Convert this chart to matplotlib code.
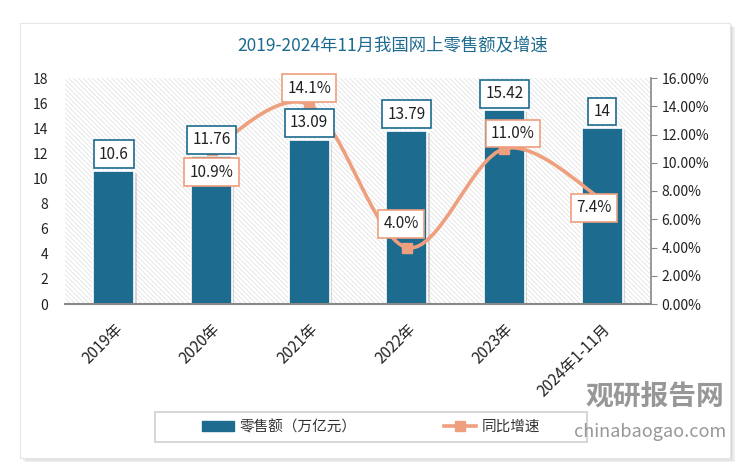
import matplotlib.pyplot as plt
from matplotlib.patches import Rectangle, PathPatch
from matplotlib.path import Path
from matplotlib.lines import Line2D
from matplotlib.ticker import FuncFormatter

plt.rcParams['font.family'] = ['Noto Sans CJK SC', 'DejaVu Sans']
plt.rcParams['hatch.linewidth'] = 0.5

categories = ['2019年', '2020年', '2021年', '2022年', '2023年', '2024年1-11月']
sales = [10.6, 11.76, 13.09, 13.79, 15.42, 14]
growth_idx = [1, 2, 3, 4, 5]
growth = [10.9, 14.1, 4.0, 11.0, 7.4]
growth_labels = ['10.9%', '14.1%', '4.0%', '11.0%', '7.4%']

bar_color = '#1d6b8f'
line_color = '#ee9f7d'
title_color = '#1d6b8f'

fig = plt.figure(figsize=(7.5, 4.71), dpi=100)
fig.patch.set_facecolor('white')

# card with soft shadow
for i, a in enumerate([0.05, 0.05, 0.06]):
    fig.patches.append(Rectangle((20 / 750 + 0.002 * (i + 1), 13 / 471 - 0.003 * (i + 1)),
                                 710 / 750, 435 / 471, transform=fig.transFigure,
                                 facecolor='black', alpha=a, lw=0, zorder=0))
fig.patches.append(Rectangle((20 / 750, 13 / 471), 710 / 750, 435 / 471,
                             transform=fig.transFigure, facecolor='white',
                             edgecolor='#e6e6e6', lw=0.8, zorder=0.5))

ax = fig.add_axes([65 / 750, 1 - 304 / 471, 586 / 750, 226 / 471])
ax.set_zorder(2)
ax.patch.set_alpha(0)
ax.add_patch(Rectangle((0, 0), 1, 1, transform=ax.transAxes, facecolor='white',
                       edgecolor='#dedede', hatch='\\\\\\\\\\\\\\', lw=0, zorder=0))

x = list(range(len(categories)))
# shadow bars
ax.bar([i + 0.025 for i in x], sales, width=0.42, color='#999999', alpha=0.35,
       zorder=1, bottom=-0.15)
ax.bar(x, sales, width=0.42, color=bar_color, edgecolor='white', lw=1.2, zorder=2)
ax.set_xlim(-0.5, 5.5)
ax.set_ylim(0, 18)
ax.set_yticks(range(0, 19, 2))
ax.set_xticks(x)
ax.set_xticklabels(categories, rotation=45, ha='right', rotation_mode='anchor',
                   fontsize=11, color='#222222')
ax.tick_params(axis='y', length=0, labelsize=10, labelcolor='#222222', pad=12)
ax.tick_params(axis='x', length=0, pad=12)
for s in ['left', 'right', 'top']:
    ax.spines[s].set_visible(False)
ax.spines['bottom'].set_color('#888888')
ax.spines['bottom'].set_linewidth(1.5)

ax2 = ax.twinx()
ax2.set_zorder(3)
ax2.patch.set_alpha(0)
ax2.set_ylim(0, 16)
ax2.set_yticks(range(0, 17, 2))
ax2.yaxis.set_major_formatter(FuncFormatter(lambda v, p: f'{v:.2f}%'))
ax2.tick_params(axis='y', direction='out', length=4, color='#888888',
                labelsize=10, labelcolor='#222222')
for s in ['left', 'top', 'bottom']:
    ax2.spines[s].set_visible(False)
ax2.spines['right'].set_color('#888888')
ax2.spines['right'].set_linewidth(1.2)

# smoothed line (Catmull-Rom as cubic Bezier)
pts = list(zip(growth_idx, growth))
verts = [pts[0]]
codes = [Path.MOVETO]
for i in range(len(pts) - 1):
    p0 = pts[i - 1] if i > 0 else pts[i]
    p1 = pts[i]
    p2 = pts[i + 1]
    p3 = pts[i + 2] if i + 2 < len(pts) else pts[i + 1]
    c1 = (p1[0] + (p2[0] - p0[0]) / 6, p1[1] + (p2[1] - p0[1]) / 6)
    c2 = (p2[0] - (p3[0] - p1[0]) / 6, p2[1] - (p3[1] - p1[1]) / 6)
    verts += [c1, c2, p2]
    codes += [Path.CURVE4] * 3
ax2.add_patch(PathPatch(Path(verts, codes), fc='none', ec=line_color, lw=2.6,
                        capstyle='round', zorder=4))
ax2.plot(growth_idx, growth, linestyle='none', marker='s', markersize=7,
         color=line_color, zorder=5)

# bar value labels, drawn above the line
for i, v in enumerate(sales):
    ax2.annotate(f'{v:g}', (i, v), xycoords=ax.transData, xytext=(0, 12),
                 textcoords='offset points', ha='center', va='center',
                 fontsize=11, color='#222222', zorder=6,
                 bbox=dict(boxstyle='square,pad=0.35', fc='white', ec=bar_color, lw=1.2))

offsets = [(0, -16), (0, 12), (-4, 17), (6, 11), (-6, -6)]
for i, v, lab, off in zip(growth_idx, growth, growth_labels, offsets):
    ax2.annotate(lab, (i, v), xytext=off, textcoords='offset points',
                 ha='center', va='center', fontsize=11, color='#222222', zorder=7,
                 bbox=dict(boxstyle='square,pad=0.35', fc='white', ec=line_color, lw=1.2))

fig.text(393 / 750, 1 - 45 / 471, '2019-2024年11月我国网上零售额及增速',
         ha='center', va='center', fontsize=12.5, color=title_color)

# legend
fig.patches.append(Rectangle((155 / 750, 1 - 442 / 471), 432 / 750, 30 / 471,
                             transform=fig.transFigure, facecolor='white',
                             edgecolor='#d0d0d0', lw=1.2, zorder=1))
handles = [Rectangle((0, 0), 1, 1, color=bar_color),
           Line2D([], [], color=line_color, lw=2.6, marker='s', markersize=7)]
fig.legend(handles, ['零售额（万亿元）', '同比增速'], loc='center',
           bbox_to_anchor=(371 / 750, 1 - 427 / 471), ncol=2, frameon=False,
           fontsize=10.5, columnspacing=6, handlelength=2.2, handletextpad=0.4,
           labelcolor='#333333')

# watermark
fig.text(655 / 750, 1 - 397 / 471, '观研报告网', ha='center', va='center',
         fontsize=20, fontweight='bold', color='#8c8c8c', alpha=0.9, zorder=10)
fig.text(650 / 750, 1 - 432 / 471, 'chinabaogao.com', ha='center', va='center',
         fontsize=13, color='#8c8c8c', alpha=0.9, zorder=10)

fig.savefig('out.png', dpi=100, facecolor='white')
